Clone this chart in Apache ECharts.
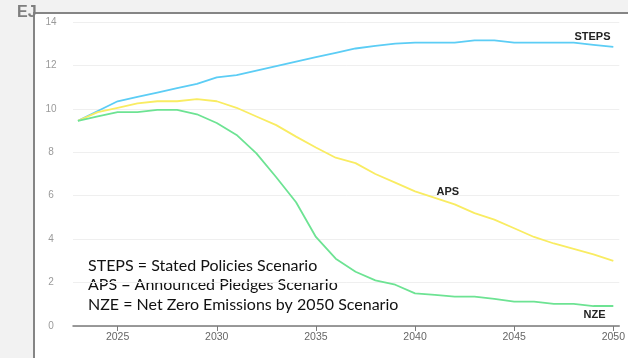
<!DOCTYPE html>
<html>
<head>
<meta charset="utf-8">
<script src="https://cdn.jsdelivr.net/npm/echarts@6/dist/echarts.min.js"></script>
<style>
html,body{margin:0;padding:0;width:628px;height:358px;background:#f2f2f2;overflow:hidden;}
#panel{position:absolute;left:33px;top:12px;width:600px;height:360px;background:#fff;border-left:2px solid #858585;border-top:2px solid #858585;}
#chart{position:absolute;left:0;top:0;width:628px;height:358px;}
</style>
</head>
<body>
<div id="panel"></div>
<div id="chart"></div>
<script>
const years = [2023,2024,2025,2026,2027,2028,2029,2030,2031,2032,2033,2034,2035,2036,2037,2038,2039,2040,2041,2042,2043,2044,2045,2046,2047,2048,2049,2050];
const steps = [9.45,9.9,10.35,10.55,10.75,10.95,11.15,11.45,11.55,11.76,11.97,12.18,12.38,12.58,12.78,12.9,13.0,13.05,13.05,13.05,13.15,13.15,13.05,13.05,13.05,13.05,12.95,12.85];
const aps = [9.45,9.85,10.05,10.25,10.35,10.35,10.45,10.35,10.05,9.65,9.25,8.72,8.22,7.75,7.5,7.0,6.6,6.2,5.9,5.6,5.2,4.9,4.5,4.1,3.8,3.55,3.3,3.0];
const nze = [9.45,9.65,9.85,9.85,9.95,9.95,9.75,9.35,8.8,7.95,6.85,5.7,4.1,3.1,2.5,2.1,1.9,1.5,1.43,1.35,1.35,1.25,1.12,1.12,1.02,1.02,0.92,0.92];
const xTicks = [2025,2030,2035,2040,2045,2050];
const seriesNames = ['STEPS','APS','NZE'];
const labelPos = {STEPS:[2048.95,13.3], APS:[2041.65,6.17], NZE:[2049.05,0.5]};
const legendLines = ['STEPS = Stated Policies Scenario','APS = Announced Pledges Scenario','NZE = Net Zero Emissions by 2050 Scenario'];
const colors = {STEPS:'#5ccdf5', APS:'#f9ec62', NZE:'#6de393'};

const dataMap = {STEPS:steps, APS:aps, NZE:nze};
const chart = echarts.init(document.getElementById('chart'), null, {renderer:'canvas'});
const series = seriesNames.map(name => ({
  name: name,
  type: 'line',
  data: years.map((y,i) => [y, dataMap[name][i]]),
  showSymbol: false,
  symbol: 'none',
  lineStyle: {color: colors[name], width: 1.8},
  itemStyle: {color: colors[name]},
  animation: false,
  markPoint: {
    symbol: 'circle', symbolSize: 0,
    data: [{coord: labelPos[name], value: name}],
    label: {show: true, position: 'inside', formatter: name, color: '#222', fontSize: 11, fontWeight: 'bold', fontFamily: 'Liberation Sans'}
  }
}));

chart.setOption({
  backgroundColor: 'transparent',
  animation: false,
  grid: {left: 73, right: 1, top: 22, bottom: 32},
  xAxis: {
    type: 'value', min: 2022.75, max: 2050.3,
    axisLine: {show: true, lineStyle: {color: '#7a7a7a', width: 1.5}},
    axisTick: {show: true, length: 5, customValues: xTicks, lineStyle: {color: '#7a7a7a', width: 1}},
    axisLabel: {customValues: xTicks, formatter: v => String(v), color: '#666', fontSize: 10.5, margin: 6, fontFamily: 'Liberation Sans'},
    splitLine: {show: false}
  },
  yAxis: {
    type: 'value', min: 0, max: 14, interval: 2,
    axisLine: {show: false}, axisTick: {show: false},
    axisLabel: {color: '#9a9a9a', fontSize: 10, margin: 22, align: 'center', fontFamily: 'Liberation Sans'},
    splitLine: {lineStyle: {color: '#efefef', width: 1}}
  },
  graphic: [
    {type: 'text', left: 17, top: 5, style: {text: 'EJ', fontSize: 16, fontWeight: 'bold', fill: '#7f7f7f', fontFamily: 'Liberation Sans'}},
    {type: 'text', left: 88, top: 256, style: {text: legendLines.join('\n'), fontSize: 16, lineHeight: 19.5, fill: '#111', fontFamily: 'Lato'}}
  ],
  series: series
});
</script>
</body>
</html>
